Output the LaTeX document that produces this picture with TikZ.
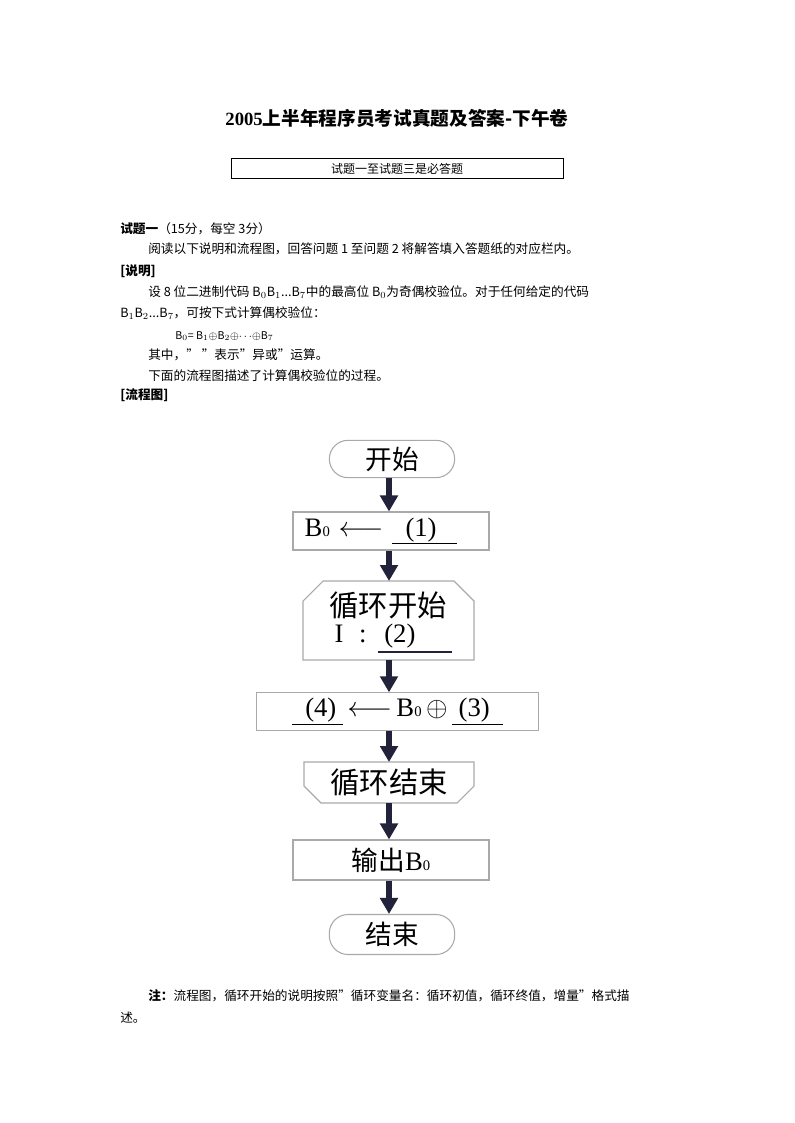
\documentclass[tikz,border=0pt]{standalone}
\usepackage{fontspec}
\setmainfont{Noto Sans CJK SC}
\newfontfamily\lat{Liberation Serif}
\usetikzlibrary{arrows.meta}
\definecolor{arr}{HTML}{22223A}
\definecolor{edge}{HTML}{A8AAA8}
\begin{document}
\begin{tikzpicture}[x=0.75pt,y=-0.75pt,
 txt/.style={anchor=west,inner sep=0,font=\fontsize{9.5pt}{11pt}\selectfont},
 fl/.style={font=\fontsize{20pt}{22pt}\selectfont},
 flow/.style={-{Triangle[width=13pt,length=12pt]},line width=4pt,arr},
 bx/.style={draw=edge,line width=0.8pt}]
\useasboundingbox (0,0) rectangle (794,1123);
\fill[white] (0,0) rectangle (794,1123);
\node[font=\fontsize{14pt}{16pt}\selectfont\bfseries] (title) at (397,118) {{\lat\bfseries 2005}上半年程序员考试真题及答案-下午卷};
\node[draw,line width=0.6pt,minimum width=249pt,minimum height=15pt,inner sep=0,font=\fontsize{9pt}{10pt}\selectfont] (req) at (397,168.5) {试题一至试题三是必答题};
\node[txt] (l1) at (120,229) {\textbf{试题一}（15分，每空 3分）};
\node[txt] (l2) at (148,249) {阅读以下说明和流程图，回答问题 1 至问题 2 将解答填入答题纸的对应栏内。};
\node[txt] (l3) at (120,271) {\textbf{[说明]}};
\node[txt] (l4) at (148,292) {设 8 位二进制代码 B$_0$B$_1$...B$_7$中的最高位 B$_0$为奇偶校验位。对于任何给定的代码};
\node[txt] (l5) at (120,313) {B$_1$B$_2$...B$_7$，可按下式计算偶校验位：};
\node[txt] (l6) at (175,336) {\fontsize{8pt}{9pt}\selectfont B$_0$= B$_1$$\oplus$B$_2$$\oplus$$\cdots$$\oplus$B$_7$};
\node[txt] (l7) at (148,355) {其中，” ”表示”异或”运算。};
\node[txt] (l8) at (148,376) {下面的流程图描述了计算偶校验位的过程。};
\node[txt] (l9) at (120,395) {\textbf{[流程图]}};
% flowchart
\coordinate (ax) at (389,0);
\node[bx,rounded corners=14pt,minimum width=94pt,minimum height=28pt,fl] (start) at (392,459) {开始};
\node[bx,minimum width=147pt,minimum height=28.5pt,inner sep=0] (b1) at (391,531) {};
\node[fl,anchor=west] (b1t) at (300,531) {\lat B{\fontsize{11pt}{12pt}\selectfont 0}\,\,$\longleftarrow$\,\,\underline{\ \ (1)\ \ \ }};
\draw[bx] (303,660) -- (303,601) -- (323,581) -- (454,581) -- (474,601) -- (474,660) -- cycle;
\coordinate (ltop) at (389,581);
\coordinate (lbot) at (389,660);
\node[font=\fontsize{22pt}{24pt}\selectfont] (loop) at (388,605) {循环开始};
\node[fl,anchor=west] (loopb) at (330,636) {\lat I\,\, :\,\ \ (2)\ \ };
\draw[line width=2pt,arr] (378,652) -- (452,652);
\node[bx,minimum width=211pt,minimum height=28pt,inner sep=0] (b3) at (397.5,711.5) {};
\node[fl] (b3t) at (397.5,711.5) {\lat\underline{\ \ (4)\ }\,$\longleftarrow$\,B{\fontsize{11pt}{12pt}\selectfont 0}\,$\oplus$\,\underline{\ (3)\ \ }};
\draw[bx] (304,762) -- (474,762) -- (474,786) -- (457,803) -- (321,803) -- (304,786) -- cycle;
\coordinate (etop) at (389,762);
\coordinate (ebot) at (389,803);
\node[font=\fontsize{22pt}{24pt}\selectfont] (lend) at (389,782) {循环结束};
\node[bx,minimum width=147pt,minimum height=30pt,fl] (out) at (391,860) {输出{\lat B{\fontsize{11pt}{12pt}\selectfont 0}}};
\node[bx,rounded corners=14pt,minimum width=94pt,minimum height=30pt,fl] (end) at (392,934.5) {结束};
\draw[flow] (start.south -| ax) -- (b1.north -| ax);
\draw[flow] (b1.south -| ax) -- (ltop);
\draw[flow] (lbot) -- (b3.north -| ax);
\draw[flow] (b3.south -| ax) -- (etop);
\draw[flow] (ebot) -- (out.north -| ax);
\draw[flow] (out.south -| ax) -- (end.north -| ax);
\node[txt] (n1) at (148,996) {\textbf{注：}流程图，循环开始的说明按照”循环变量名：循环初值，循环终值，增量”格式描};
\node[txt] (n2) at (120,1018) {述。};
\end{tikzpicture}
\end{document}
